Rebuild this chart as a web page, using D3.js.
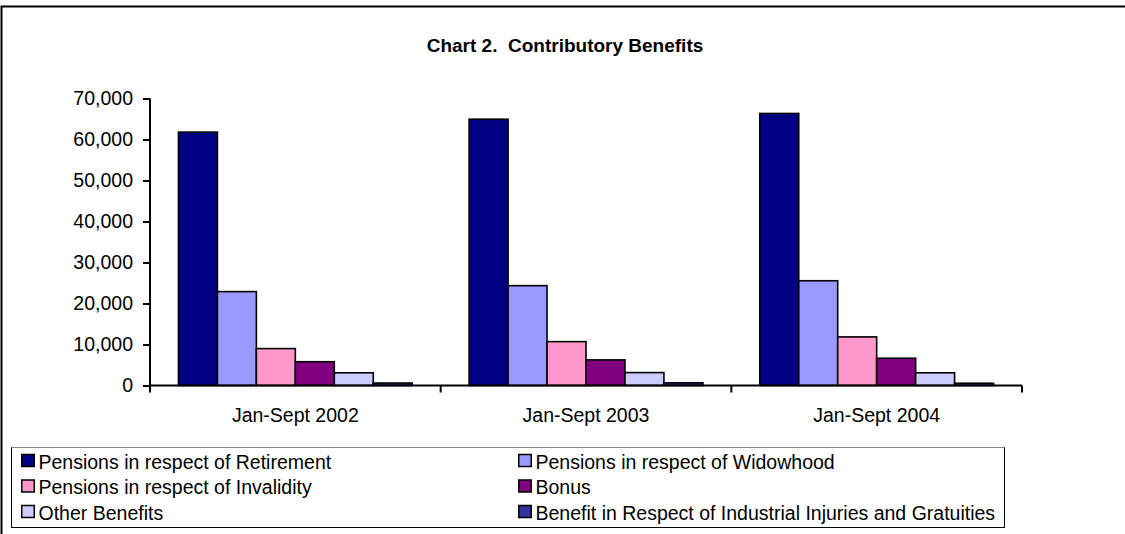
<!DOCTYPE html>
<html>
<head>
<meta charset="utf-8">
<script src="https://cdn.jsdelivr.net/npm/d3@7"></script>
<style>
  html, body { margin: 0; padding: 0; background: #fff; }
  svg { display: block; font-family: "Liberation Sans", Arial, sans-serif; }
  text { white-space: pre; }
</style>
</head>
<body>
<svg id="chart" width="1125" height="534"></svg>
<script>
// Contributory benefits paid, Jan-Sept periods
const categories = ["Jan-Sept 2002", "Jan-Sept 2003", "Jan-Sept 2004"];
const seriesNames = [
  "Pensions in respect of Retirement",
  "Pensions in respect of Widowhood",
  "Pensions in respect of Invalidity",
  "Bonus",
  "Other Benefits",
  "Benefit in Respect of Industrial Injuries and Gratuities"
];
const retirement    = [61800, 64950, 66350];
const widowhood     = [22900, 24350, 25550];
const invalidity    = [9000, 10700, 11850];
const bonus         = [5800, 6250, 6650];
const otherBenefits = [3100, 3150, 3100];
const industrial    = [600, 650, 550];
const seriesColors = ["#000080", "#9999FF", "#FF99CC", "#800080", "#CCCCFF", "#333399"];
const yTicks = [0, 10000, 20000, 30000, 40000, 50000, 60000, 70000];

const seriesValues = [retirement, widowhood, invalidity, bonus, otherBenefits, industrial];

const FONT = 19.5;
const svg = d3.select("#chart");

// outer chart frame (runs off the right and bottom edges)
svg.append("rect")
  .attr("x", 1.5).attr("y", 6.5)
  .attr("width", 1200).attr("height", 600)
  .attr("fill", "none").attr("stroke", "#000").attr("stroke-width", 2);

// title
svg.append("text")
  .attr("x", 565).attr("y", 52)
  .attr("text-anchor", "middle")
  .attr("font-weight", "bold")
  .attr("font-size", 19)
  .text("Chart 2.  Contributory Benefits");

const plotLeft = 150, plotRight = 1022, plotTop = 98.5, plotBottom = 385.5;

const x0 = d3.scaleBand().domain(categories).range([plotLeft, plotRight]);
const x1 = d3.scaleBand().domain(seriesNames).range([0, x0.bandwidth()])
  .paddingInner(0).paddingOuter(0.73);
const y = d3.scaleLinear().domain([0, 70000]).range([plotBottom, plotTop]);

// bars
const groups = svg.append("g").selectAll("g")
  .data(categories)
  .join("g")
  .attr("transform", d => `translate(${x0(d)},0)`);

groups.selectAll("rect")
  .data((c, ci) => seriesNames.map((s, si) => ({ s, v: seriesValues[si][ci], color: seriesColors[si] })))
  .join("rect")
  .attr("x", d => x1(d.s))
  .attr("y", d => y(d.v))
  .attr("width", x1.bandwidth())
  .attr("height", d => y(0) - y(d.v))
  .attr("fill", d => d.color)
  .attr("stroke", "#000")
  .attr("stroke-width", 1.6);

// y axis
const yAxis = d3.axisLeft(y)
  .tickValues(yTicks)
  .tickFormat(d3.format(","))
  .tickSize(7)
  .tickPadding(10);
const gy = svg.append("g")
  .attr("transform", `translate(${plotLeft},0)`)
  .call(yAxis);
gy.select(".domain").attr("stroke", "#000").attr("stroke-width", 2)
  .attr("d", `M0,${plotTop}V${plotBottom}`);
gy.selectAll(".tick line").attr("stroke", "#000").attr("stroke-width", 2);
gy.selectAll(".tick text")
  .attr("font-family", "Liberation Sans, Arial, sans-serif")
  .attr("font-size", FONT).attr("fill", "#000");

// x axis: ticks sit on category boundaries, labels centred in each band
const gx = svg.append("g")
  .attr("transform", `translate(0,${plotBottom})`);
gx.append("line")
  .attr("x1", plotLeft).attr("x2", plotRight)
  .attr("stroke", "#000").attr("stroke-width", 2);
const boundaries = categories.map(c => x0(c)).concat([x0(categories[categories.length - 1]) + x0.bandwidth()]);
gx.selectAll("line.tick")
  .data(boundaries)
  .join("line")
  .attr("class", "tick")
  .attr("x1", d => d).attr("x2", d => d)
  .attr("y1", 0).attr("y2", 7)
  .attr("stroke", "#000").attr("stroke-width", 2);
gx.selectAll("text")
  .data(categories)
  .join("text")
  .attr("x", d => x0(d) + x0.bandwidth() / 2)
  .attr("y", 36.5)
  .attr("text-anchor", "middle")
  .attr("font-size", FONT)
  .text(d => d);

// legend
const legend = svg.append("g");
const lx0 = 11.5, lx1 = 1004.5, ly0 = 447.5, ly1 = 527.5;
legend.append("rect")
  .attr("x", lx0).attr("y", ly0)
  .attr("width", lx1 - lx0).attr("height", ly1 - ly0)
  .attr("fill", "#fff").attr("stroke", "#000").attr("stroke-width", 1);
legend.append("line")
  .attr("x1", lx0).attr("x2", lx1).attr("y1", ly0).attr("y2", ly0)
  .attr("stroke", "#888").attr("stroke-width", 1);

const legendCols = [21, 518];
const legendRows = [468.5, 494, 519.5];
const items = legend.selectAll("g.item")
  .data(seriesNames)
  .join("g")
  .attr("class", "item")
  .attr("transform", (d, i) => `translate(${legendCols[i % 2]},${legendRows[Math.floor(i / 2)]})`);
items.append("rect")
  .attr("x", 0.75).attr("y", -14)
  .attr("width", 12.5).attr("height", 12)
  .attr("fill", (d, i) => seriesColors[i])
  .attr("stroke", "#000").attr("stroke-width", 1.5);
items.append("text")
  .attr("x", 17.5).attr("y", 0)
  .attr("font-size", FONT)
  .text(d => d);
</script>
</body>
</html>
